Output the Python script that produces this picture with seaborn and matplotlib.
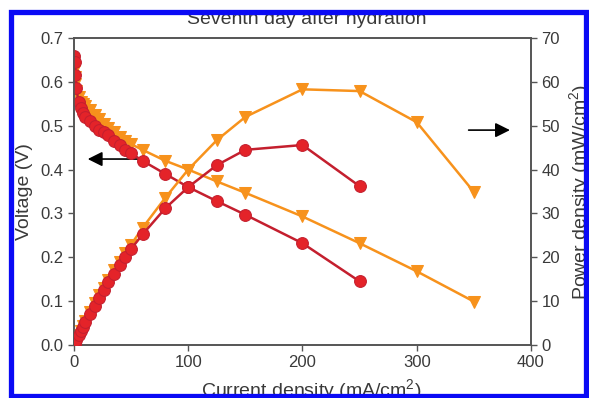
import matplotlib
matplotlib.use("Agg")
import matplotlib.pyplot as plt
import seaborn as sns
from matplotlib.patches import Rectangle

# Red cell (circles)
red_current = [0, 0.5, 1, 2, 4, 6, 8, 10, 14, 18, 22, 26, 30, 35, 40, 45, 50, 60, 80, 100, 125, 150, 200, 250]
red_voltage = [0.66, 0.645, 0.615, 0.585, 0.555, 0.54, 0.53, 0.52, 0.51, 0.50, 0.49, 0.485, 0.478, 0.465,
               0.455, 0.445, 0.437, 0.42, 0.39, 0.36, 0.328, 0.297, 0.232, 0.145]
red_power = [0, 0.3, 0.6, 1.2, 2.2, 3.2, 4.2, 5.2, 7.1, 9.0, 10.8, 12.6, 14.3, 16.3, 18.2, 20.0, 21.9,
             25.2, 31.2, 36.0, 41.0, 44.5, 45.6, 36.2]

# Orange cell (triangles)
orange_current = [0, 0.5, 1, 2, 4, 6, 8, 10, 14, 18, 22, 26, 30, 35, 40, 45, 50, 60, 80, 100, 125, 150,
                  200, 250, 300, 350]
orange_voltage = [0.625, 0.61, 0.595, 0.58, 0.565, 0.555, 0.55, 0.545, 0.535, 0.525, 0.515, 0.505, 0.495,
                  0.485, 0.475, 0.466, 0.458, 0.445, 0.42, 0.40, 0.373, 0.347, 0.293, 0.232, 0.168, 0.099]
orange_power = [0, 0.3, 0.6, 1.2, 2.3, 3.3, 4.4, 5.5, 7.5, 9.5, 11.3, 13.1, 14.9, 17.0, 19.0, 21.0, 22.9,
                26.7, 33.6, 40.0, 46.7, 52.0, 58.3, 57.9, 50.8, 34.9]

x_ticks = [0, 100, 200, 300, 400]
v_ticks = [0.0, 0.1, 0.2, 0.3, 0.4, 0.5, 0.6, 0.7]
p_ticks = [0, 10, 20, 30, 40, 50, 60, 70]

sns.set_theme(style="ticks")
plt.rcParams['font.family'] = ['Liberation Sans', 'DejaVu Sans']
plt.rcParams['mathtext.default'] = 'regular'

text_col = '#3a3a3a'
spine_col = '#555555'
red_line = '#c41f2e'
red_mark = '#e42329'
orange = '#f7921c'

fig = plt.figure(figsize=(5.89, 3.98), dpi=100)
ax = fig.add_axes([0.1256, 0.1332, 0.7759, 0.7713])
ax2 = ax.twinx()

# orange first, red on top
sns.lineplot(x=orange_current, y=orange_voltage, ax=ax, color=orange, lw=1.8, marker='v', markersize=8,
             markeredgecolor=orange, sort=False, estimator=None, zorder=2)
sns.lineplot(x=red_current, y=red_voltage, ax=ax, color=red_line, lw=1.8, marker='o', markersize=8.5,
             markerfacecolor=red_mark, markeredgecolor=red_line, sort=False, estimator=None, zorder=3)
sns.lineplot(x=orange_current, y=orange_power, ax=ax2, color=orange, lw=1.8, marker='v', markersize=8,
             markeredgecolor=orange, sort=False, estimator=None, zorder=2)
sns.lineplot(x=red_current, y=red_power, ax=ax2, color=red_line, lw=1.8, marker='o', markersize=8.5,
             markerfacecolor=red_mark, markeredgecolor=red_line, sort=False, estimator=None, zorder=3)

ax.set_xlim(0, 400)
ax.set_ylim(0, 0.7)
ax2.set_ylim(0, 70)
ax.set_xticks(x_ticks)
ax.set_yticks(v_ticks)
ax2.set_yticks(p_ticks)
ax.set_yticklabels([f'{v:.1f}' for v in v_ticks])

for a in (ax, ax2):
    a.tick_params(direction='out', length=4, width=1, colors=spine_col, labelcolor=text_col, labelsize=12)
    for s in a.spines.values():
        s.set_color(spine_col)
        s.set_linewidth(1.2)

ax.set_xlabel('Current density (mA/cm$^2$)', fontsize=14, color=text_col)
ax.set_ylabel('Voltage (V)', fontsize=14, color=text_col)
ax2.set_ylabel('Power density (mW/cm$^2$)', fontsize=14, color=text_col)
ax.xaxis.set_label_coords(0.52, -0.105)
ax.yaxis.set_label_coords(-0.09, 0.5)
ax2.yaxis.set_label_coords(1.08, 0.5)

# arrows pointing to the axes
ax.annotate('', xy=(9.6, 0.424), xytext=(58, 0.424),
            arrowprops=dict(arrowstyle='-|>', color='black', lw=1.2, mutation_scale=22), zorder=1)
ax.annotate('', xy=(384, 0.49), xytext=(343, 0.49),
            arrowprops=dict(arrowstyle='-|>', color='black', lw=1.2, mutation_scale=22))

fig.text(307 / 589, 1 - 19 / 398, 'Seventh day after hydration', fontsize=14, color=text_col,
         ha='center', va='center')

# blue frame
fig.add_artist(Rectangle((10.5 / 589, 1 - 395.5 / 398), (586 - 10.5) / 589, (395.5 - 11.5) / 398,
                         transform=fig.transFigure, fill=False, edgecolor='#0a0af5', lw=3.8, zorder=10))

fig.savefig('out.png', dpi=100)
